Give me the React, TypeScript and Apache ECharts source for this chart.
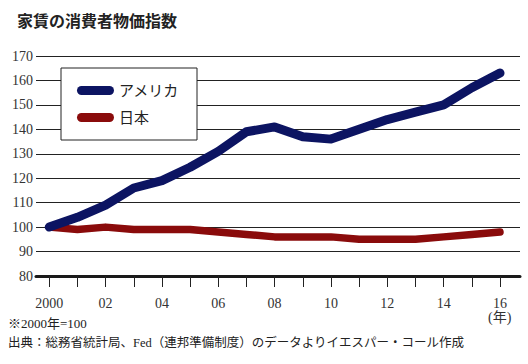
import React, { useEffect, useRef } from "react";
import * as echarts from "echarts";

const years = [2000, 2001, 2002, 2003, 2004, 2005, 2006, 2007, 2008, 2009, 2010, 2011, 2012, 2013, 2014, 2015, 2016];
const usa = [100, 104, 109, 116, 119, 124.5, 131, 139, 141, 137, 136, 140, 144, 147, 150, 157, 163];
const japan = [100, 99, 100, 99, 99, 99, 98, 97, 96, 96, 96, 95, 95, 95, 96, 97, 98];
const labelYears = [2000, 2002, 2004, 2006, 2008, 2010, 2012, 2014, 2016];
const seriesNames = ["アメリカ", "日本"];
const title = "家賃の消費者物価指数";
const note1 = "※2000年=100";
const note2 = "出典：総務省統計局、Fed（連邦準備制度）のデータよりイエスパー・コール作成";

const SERIF = "'Liberation Serif', 'Noto Sans CJK JP', serif";
const pill = "path://M4.5,0 L32.5,0 A4.5,4.5 0 0 1 32.5,9 L4.5,9 A4.5,4.5 0 0 1 4.5,0 Z";

export default function App() {
  const ref = useRef<HTMLDivElement>(null);
  useEffect(() => {
    if (!ref.current) return;
    const chart = echarts.init(ref.current, null, { renderer: "svg" });
    chart.setOption({
      animation: false,
      backgroundColor: "#ffffff",
      title: {
        text: title,
        left: 12,
        top: 8,
        textStyle: { fontFamily: SERIF, fontSize: 16, fontWeight: "bold", color: "#222" },
      },
      grid: { left: 36, right: 8, top: 56, bottom: 88 },
      legend: {
        orient: "vertical",
        left: 61,
        top: 68,
        padding: [15, 18, 15, 16],
        itemGap: 12,
        itemWidth: 37,
        itemHeight: 9,
        backgroundColor: "#ffffff",
        borderColor: "#222",
        borderWidth: 1,
        borderRadius: 0,
        data: [
          { name: seriesNames[0], icon: pill },
          { name: seriesNames[1], icon: pill },
        ],
        textStyle: { fontFamily: SERIF, fontSize: 15, color: "#222" },
        z: 10,
      },
      xAxis: {
        type: "value",
        min: 1999.53,
        max: 2016.71,
        axisLine: { show: true, lineStyle: { color: "#1a1a1a", width: 3 } },
        axisTick: { show: true, customValues: years, length: 11, lineStyle: { color: "#222", width: 1 } },
        axisLabel: {
          customValues: labelYears,
          margin: 20,
          fontFamily: SERIF,
          fontSize: 14,
          color: "#333",
          formatter: (v: number) => (v === 2000 ? "2000" : String(v).slice(2)),
        },
        splitLine: { show: false },
      },
      yAxis: {
        type: "value",
        min: 80,
        max: 170,
        interval: 10,
        axisLine: { show: false },
        axisTick: { show: false },
        axisLabel: { margin: 3, fontFamily: SERIF, fontSize: 14, color: "#333" },
        splitLine: { show: true, lineStyle: { color: "#222", width: 1 } },
      },
      series: [
        {
          name: seriesNames[0],
          type: "line",
          data: years.map((y, i) => [y, usa[i]]),
          symbol: "none",
          z: 4,
          itemStyle: { color: "#0c1462" },
          lineStyle: { color: "#0c1462", width: 9, cap: "round", join: "round" },
        },
        {
          name: seriesNames[1],
          type: "line",
          data: years.map((y, i) => [y, japan[i]]),
          symbol: "none",
          z: 3,
          itemStyle: { color: "#8a0b0b" },
          lineStyle: { color: "#8a0b0b", width: 7.5, cap: "round", join: "round" },
        },
      ],
      graphic: [
        {
          type: "text",
          left: 488,
          top: 310,
          style: { text: "(年)", font: "14px " + SERIF, fill: "#333" },
        },
        {
          type: "text",
          left: 8,
          top: 317,
          style: { text: note1, font: "13px " + SERIF, fill: "#222" },
        },
        {
          type: "text",
          left: 8,
          top: 337,
          style: { text: note2, font: "12.5px " + SERIF, fill: "#222" },
        },
      ],
    });
    return () => chart.dispose();
  }, []);
  return <div ref={ref} style={{ width: 528, height: 364, position: "absolute", left: 0, top: 0 }} />;
}
